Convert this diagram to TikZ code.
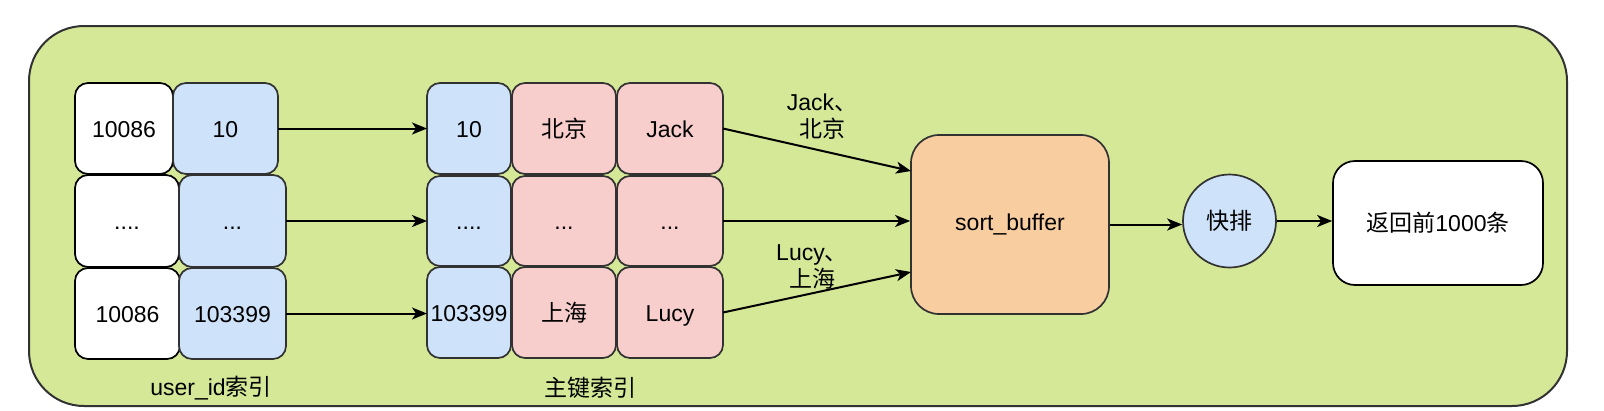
\documentclass[tikz,border=0pt]{standalone}
\usepackage{fontspec}
\setmainfont{Liberation Sans}
\newfontfamily\cjk{Noto Sans CJK SC}
\usetikzlibrary{arrows.meta,shapes.geometric}
\definecolor{bggreen}{RGB}{212,232,152}
\definecolor{cellblue}{RGB}{206,226,250}
\definecolor{cellpink}{RGB}{248,206,204}
\definecolor{cellorange}{RGB}{248,205,160}
\definecolor{edgegray}{RGB}{50,50,50}
\tikzset{
  txt/.style={font=\fontsize{23}{27}\selectfont},
  cellbase/.style={txt, rounded corners=13pt, line width=1.7pt, inner sep=0pt, outer sep=0pt,
    text height=17pt, text depth=0pt},
  wcell/.style={cellbase, draw=black, fill=white},
  bcell/.style={cellbase, draw=edgegray, fill=cellblue},
  pcell/.style={cellbase, draw=edgegray, fill=cellpink},
  arr/.style={-{Stealth[length=15pt,width=12pt,inset=4pt]}, line width=2pt, draw=black},
  lbl/.style={txt, align=center, inner sep=0pt},
}
\begin{document}
\begin{tikzpicture}[x=1pt,y=-1pt]
\useasboundingbox (0,0) rectangle (1604,410);
% container
\node[draw=edgegray, fill=bggreen, line width=2pt, rounded corners=55pt,
  minimum width=1538pt, minimum height=380pt, inner sep=0pt] (bg) at (798,216) {};
% user_id index
\node[wcell, minimum width=98pt, minimum height=91pt] (w1) at (124,128.5) {10086};
\node[wcell, minimum width=104pt, minimum height=92pt] (w2) at (127,221) {....};
\node[wcell, minimum width=105pt, minimum height=91pt] (w3) at (127.5,313.5) {10086};
\node[bcell, minimum width=105pt, minimum height=91pt] (b1) at (225.5,128.5) {10};
\node[bcell, minimum width=107pt, minimum height=92pt] (b2) at (232.5,221) {...};
\node[bcell, minimum width=107pt, minimum height=91pt] (b3) at (232.5,313.5) {103399};
\node[lbl] (ulab) at (211,388) {user\_id{\cjk 索引}};
% primary key index
\node[bcell, minimum width=84pt, minimum height=91pt] (m1) at (469,128.5) {10};
\node[bcell, minimum width=84pt, minimum height=90pt] (m2) at (469,221) {....};
\node[bcell, minimum width=84pt, minimum height=91pt] (m3) at (469,312.5) {103399};
\node[pcell, minimum width=104pt, minimum height=91pt] (p1) at (564,128.5) {\cjk 北京};
\node[pcell, minimum width=104pt, minimum height=90pt] (p2) at (564,221) {...};
\node[pcell, minimum width=104pt, minimum height=91pt] (p3) at (564,312.5) {\cjk 上海};
\node[pcell, minimum width=106pt, minimum height=91pt] (q1) at (670,128.5) {Jack};
\node[pcell, minimum width=106pt, minimum height=90pt] (q2) at (670,221) {...};
\node[pcell, minimum width=106pt, minimum height=91pt] (q3) at (670,312.5) {Lucy};
\node[lbl] (plab) at (590,388) {\cjk 主键索引};
% right part
\node[txt, draw=edgegray, fill=cellorange, line width=1.7pt, rounded corners=28pt,
  minimum width=198pt, minimum height=179pt, inner sep=0pt] (sb) at (1010,224.5) {sort\_buffer};
\node[txt, circle, draw=edgegray, fill=cellblue, line width=1.7pt,
  minimum size=93pt, inner sep=0pt] (kp) at (1229.5,221) {\cjk 快排};
\node[txt, draw=black, fill=white, line width=1.7pt, rounded corners=22pt,
  minimum width=210pt, minimum height=124pt, inner sep=0pt] (rb) at (1438,223) {{\cjk 返回前}1000{\cjk 条}};
% labels
\node[lbl] (jl) at (822,116.5) {Jack{\cjk 、}\\{\cjk 北京}};
\node[lbl] (ll) at (812,266.5) {Lucy{\cjk 、}\\{\cjk 上海}};
% connectors
\coordinate (sbin1) at (911,171);
\coordinate (sbin3) at (911,272);
\draw[arr] (b1.east) -- (m1.west);
\draw[arr] (b2.east) -- (m2.west);
\draw[arr] (b3.east) -- (b3.east -| m3.west);
\draw[arr] (q1.east) -- (sbin1);
\draw[arr] (q2.east) -- (q2.east -| sb.west);
\draw[arr] (q3.east) -- (sbin3);
\draw[arr] (sb.east) -- (sb.east -| kp.west);
\draw[arr] (kp.east) -- (kp.east -| rb.west);
\end{tikzpicture}
\end{document}
